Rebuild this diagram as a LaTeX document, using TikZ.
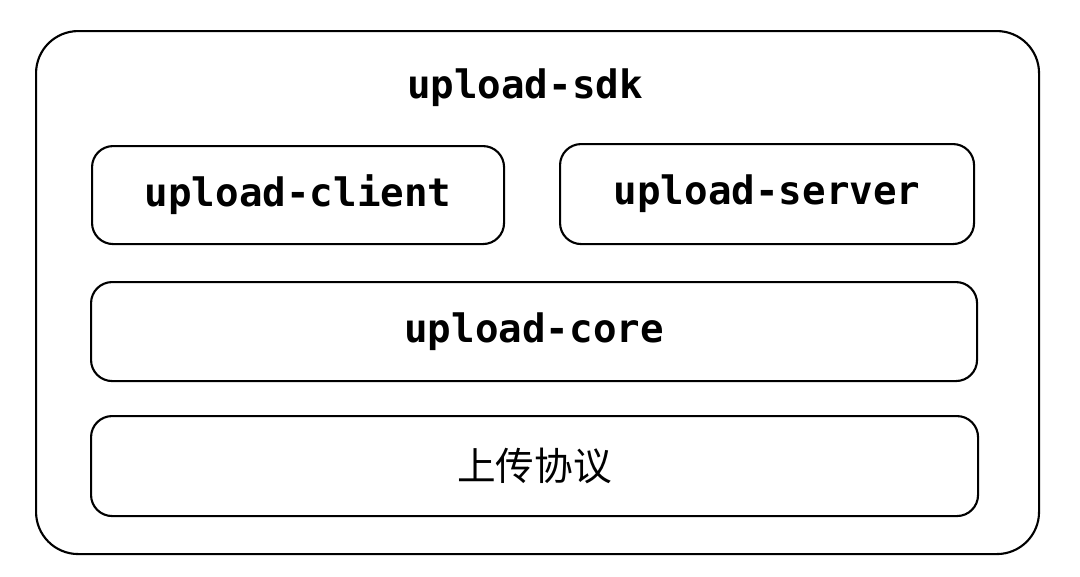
\documentclass[tikz,border=0pt]{standalone}
\usepackage{fontspec}
\setmonofont{DejaVu Sans Mono}
\newfontfamily\cjk{Noto Sans CJK SC}
\usetikzlibrary{positioning}

\tikzset{
    box/.style={draw, line width=1.2pt, rounded corners=12pt, anchor=north west},
    lbl/.style={font=\fontsize{22.3}{25}\selectfont\ttfamily\bfseries}
}

\begin{document}
\begin{tikzpicture}[x=0.02cm, y=-0.02cm]
    \useasboundingbox (0,0) rectangle (1080,576);
    % outer frame
    \node (sdk) [box, rounded corners=24pt, minimum width=1003*0.02cm, minimum height=523*0.02cm] at (35,30) {};
    \node (title) [lbl] at (525,88) {upload-sdk};

    \node (client) [box, minimum width=412*0.02cm, minimum height=98*0.02cm] at (91,145) {};
    \node [lbl] at (client.center) {upload-client};
    \node (server) [box, minimum width=414*0.02cm, minimum height=100*0.02cm] at (559,143) {};
    \node [lbl] at (server.center) {upload-server};
    \node (core) [box, minimum width=886*0.02cm, minimum height=99*0.02cm] at (90,281) {};
    \node [lbl] at (core.center) {upload-core};
    \node (proto) [box, minimum width=887*0.02cm, minimum height=100*0.02cm] at (90,415) {};
    \node [font=\cjk\fontsize{22}{26}\selectfont] at (proto.center) {上传协议};
\end{tikzpicture}
\end{document}
